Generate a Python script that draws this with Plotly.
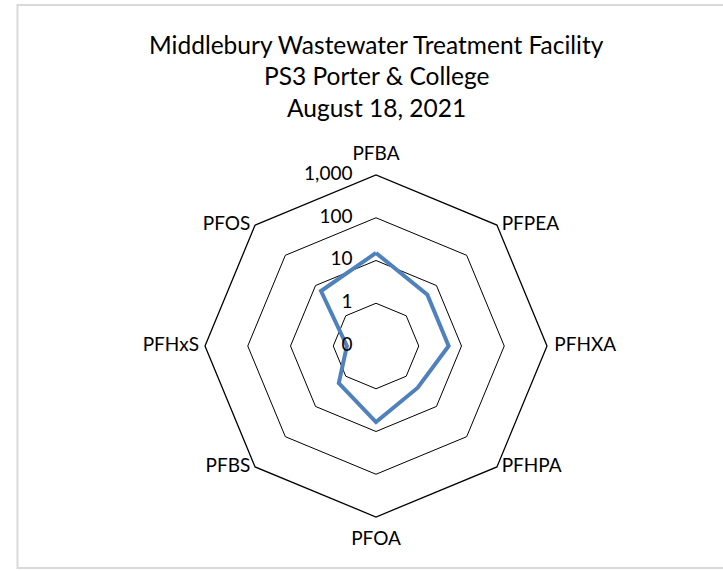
import plotly.graph_objects as go

categories = ["PFBA", "PFPEA", "PFHXA", "PFHPA", "PFOA", "PFBS", "PFHxS", "PFOS"]
values = [15, 5.0, 5.0, 2.4, 6.0, 1.7, 0.48, 6.6]
tick_vals = [0.1, 1, 10, 100, 1000]
tick_text = ["0", "1", "10", "100", "1,000"]
title_lines = ["Middlebury Wastewater Treatment Facility", "PS3 Porter & College", "August 18, 2021"]

W, H = 723, 571
cx, cy, R = 376, 346, 171

font_family = "Lato, 'Open Sans', sans-serif"
domain = dict(x=[(cx - R) / W, (cx + R) / W], y=[(H - cy - R) / H, (H - cy + R) / H])

fig = go.Figure()
fig.add_trace(go.Scatterpolar(
    r=values + values[:1],
    theta=categories + categories[:1],
    mode="lines",
    line=dict(color="#4F81BD", width=4),
    showlegend=False,
    hoverinfo="skip",
    subplot="polar",
))

# category labels (Excel-style placement around the outer ring)
label_pos = ["top center", "middle right", "middle right", "middle right",
             "bottom center", "middle left", "middle left", "middle left"]
label_pad = [15, 6, 10, 6, 20, 6, 8, 6]
fig.add_trace(go.Scatterpolar(
    r=[tick_vals[-1]] * len(categories),
    theta=categories,
    mode="markers+text",
    text=categories,
    textposition=label_pos,
    marker=dict(size=label_pad, opacity=0),
    textfont=dict(size=19, family=font_family, color="black"),
    showlegend=False,
    hoverinfo="skip",
    cliponaxis=False,
    subplot="polar2",
))
# radial axis value labels, left of the first spoke
fig.add_trace(go.Scatterpolar(
    r=tick_vals,
    theta=[categories[0]] * len(tick_vals),
    mode="markers+text",
    text=tick_text,
    textposition="middle left",
    marker=dict(size=36, opacity=0),
    textfont=dict(size=19, family=font_family, color="black"),
    showlegend=False,
    hoverinfo="skip",
    cliponaxis=False,
    subplot="polar2",
))

hidden_radial = dict(type="log", range=[-1, 3], showline=False, showgrid=False,
                     showticklabels=False, ticks="", angle=90)
hidden_angular = dict(direction="clockwise", rotation=90, type="category",
                      categoryorder="array", categoryarray=categories,
                      showline=False, showgrid=False, showticklabels=False, ticks="")

fig.update_layout(
    width=W, height=H,
    margin=dict(l=0, r=0, t=0, b=0),
    paper_bgcolor="white",
    plot_bgcolor="white",
    font=dict(family=font_family, size=19, color="black"),
    polar=dict(
        domain=domain,
        bgcolor="white",
        gridshape="linear",
        radialaxis=dict(
            type="log",
            range=[-1, 3],
            tickvals=tick_vals,
            showticklabels=False,
            angle=90,
            showline=False,
            showgrid=True,
            gridcolor="black",
            gridwidth=1.3,
            ticks="",
        ),
        angularaxis=dict(
            direction="clockwise",
            rotation=90,
            type="category",
            categoryorder="array",
            categoryarray=categories,
            showgrid=False,
            showline=True,
            linecolor="black",
            linewidth=1.3,
            ticks="",
            showticklabels=False,
        ),
    ),
    polar2=dict(
        domain=domain,
        bgcolor="rgba(0,0,0,0)",
        gridshape="circular",
        radialaxis=hidden_radial,
        angularaxis=hidden_angular,
    ),
    shapes=[dict(type="rect", xref="paper", yref="paper",
                 x0=17.5 / W, x1=1.02, y0=3 / H, y1=(H - 5) / H,
                 line=dict(color="#D9D9D9", width=2), fillcolor="rgba(0,0,0,0)")],
)

ys = [45, 76, 107]
for txt, y in zip(title_lines, ys):
    fig.add_annotation(text=txt, x=376 / W, y=(H - y) / H, xref="paper", yref="paper",
                       showarrow=False, xanchor="center", yanchor="middle",
                       font=dict(size=24.5, family=font_family, color="black"))

fig.write_html("out.html")
